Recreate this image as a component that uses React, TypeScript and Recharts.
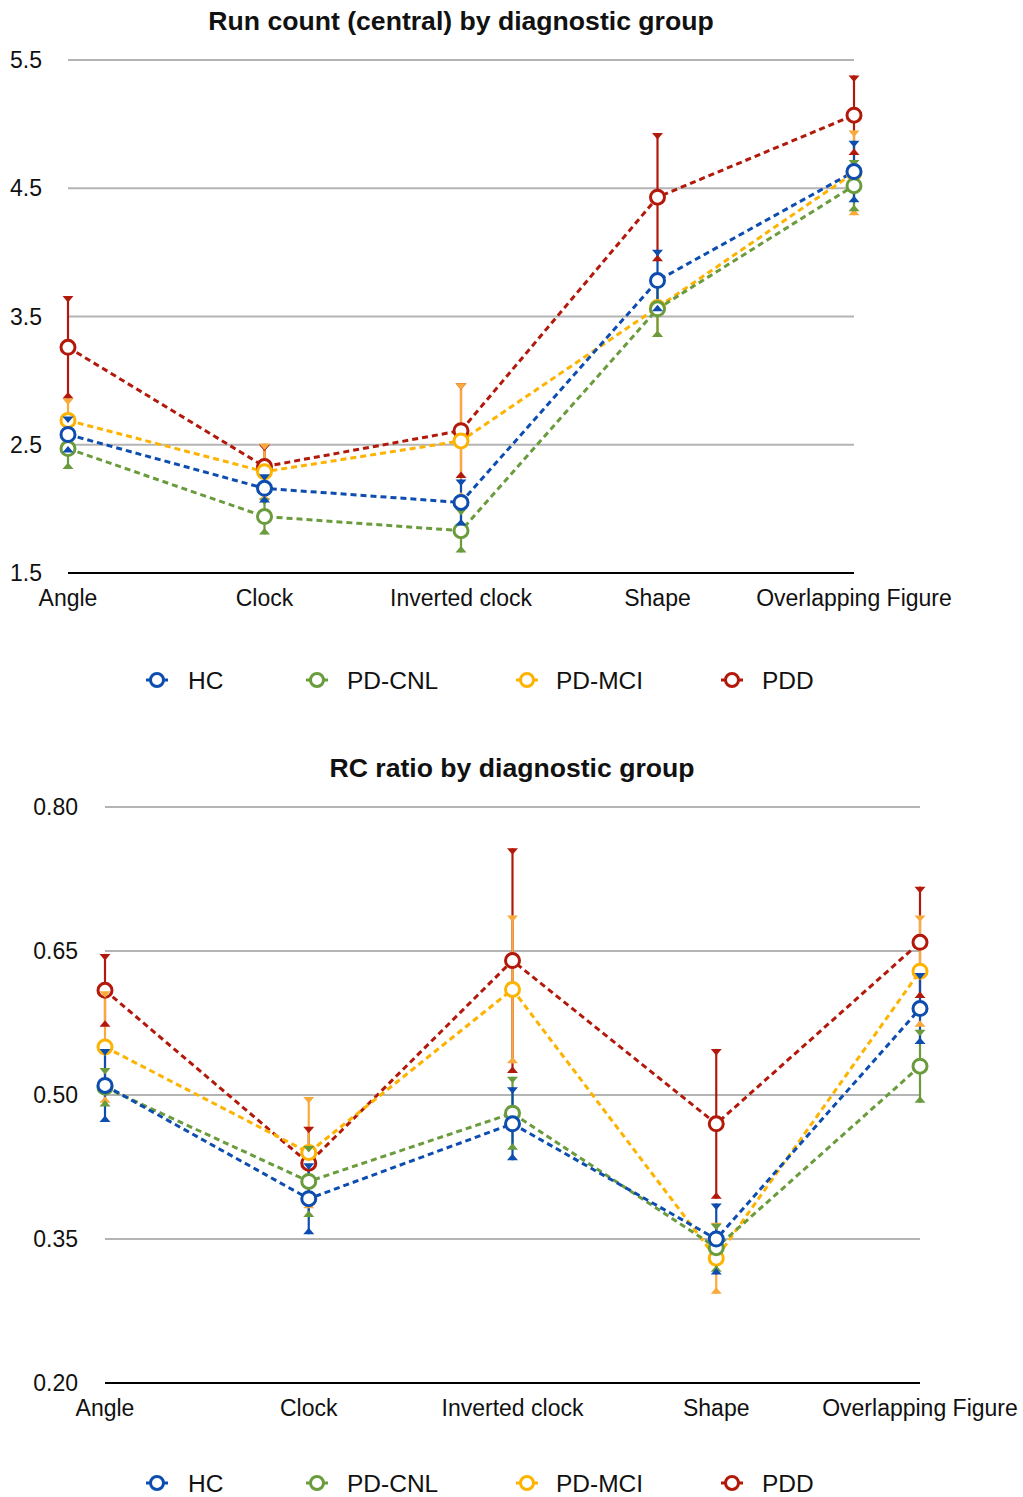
import React from "react";
import { LineChart, Line, XAxis, YAxis, CartesianGrid, ErrorBar } from "recharts";

const categories = ["Angle", "Clock", "Inverted clock", "Shape", "Overlapping Figure"];
const groups = ["HC", "PD-CNL", "PD-MCI", "PDD"];
const colors: Record<string, string> = { HC: "#0d4db0", "PD-CNL": "#6a9b3c", "PD-MCI": "#fdb300", PDD: "#b3190b" };
const barColors: Record<string, string> = { HC: "#0d4db0", "PD-CNL": "#6a9b3c", "PD-MCI": "#f9aa3c", PDD: "#b3190b" };

// Run count (central)
const runHC = [2.58, 2.16, 2.05, 3.78, 4.63];
const runHCErr = [0.14, 0.11, 0.18, 0.24, 0.24];
const runCNL = [2.47, 1.94, 1.83, 3.56, 4.52];
const runCNLErr = [0.16, 0.14, 0.17, 0.22, 0.2];
const runMCI = [2.69, 2.29, 2.53, 3.57, 4.62];
const runMCIErr = [0.17, 0.22, 0.45, 0.23, 0.33];
const runPDD = [3.26, 2.33, 2.61, 4.43, 5.07];
const runPDDErr = [0.4, 0.17, 0.37, 0.5, 0.31];
const runTicks = [1.5, 2.5, 3.5, 4.5, 5.5];

// RC ratio
const rcHC = [0.51, 0.392, 0.47, 0.35, 0.59];
const rcHCErr = [0.038, 0.037, 0.038, 0.037, 0.037];
const rcCNL = [0.508, 0.41, 0.481, 0.341, 0.53];
const rcCNLErr = [0.02, 0.037, 0.038, 0.025, 0.038];
const rcMCI = [0.55, 0.44, 0.61, 0.33, 0.629];
const rcMCIErr = [0.058, 0.058, 0.077, 0.037, 0.058];
const rcPDD = [0.609, 0.429, 0.64, 0.47, 0.659];
const rcPDDErr = [0.038, 0.038, 0.117, 0.078, 0.058];
const rcTicks = [0.2, 0.35, 0.5, 0.65, 0.8];

const FONT = "'Liberation Sans', Arial, Helvetica, sans-serif";

function buildRows(series: Record<string, number[]>, errs: Record<string, number[]>) {
  return categories.map((c, i) => {
    const row: any = { name: c };
    groups.forEach((g) => {
      row[g] = series[g][i];
      row[g + "_err"] = errs[g][i];
      row[g + "_hi"] = series[g][i] + errs[g][i];
      row[g + "_lo"] = series[g][i] - errs[g][i];
    });
    return row;
  });
}

const runRows = buildRows(
  { HC: runHC, "PD-CNL": runCNL, "PD-MCI": runMCI, PDD: runPDD },
  { HC: runHCErr, "PD-CNL": runCNLErr, "PD-MCI": runMCIErr, PDD: runPDDErr }
);
const rcRows = buildRows(
  { HC: rcHC, "PD-CNL": rcCNL, "PD-MCI": rcMCI, PDD: rcPDD },
  { HC: rcHCErr, "PD-CNL": rcCNLErr, "PD-MCI": rcMCIErr, PDD: rcPDDErr }
);

const drawOrder = ["PDD", "PD-MCI", "PD-CNL", "HC"];

function seriesElements(g: string) {
  const c = colors[g];
  const bc = barColors[g];
  return [
    <Line
      key={g + "-line"}
      type="linear"
      dataKey={g}
      stroke={c}
      strokeWidth={3}
      strokeDasharray="6 4"
      isAnimationActive={false}
      activeDot={false}
      dot={(p: any) => (
        <circle key={g + "d" + p.index} cx={p.cx} cy={p.cy} r={7} fill="#fff" stroke={c} strokeWidth={3} />
      )}
    />,
    <Line
      key={g + "-err"}
      dataKey={g}
      stroke="none"
      dot={false}
      activeDot={false}
      legendType="none"
      isAnimationActive={false}
    >
      <ErrorBar dataKey={g + "_err"} width={0} stroke={bc} strokeWidth={2.2} direction="y" isAnimationActive={false} />
    </Line>,
    <Line
      key={g + "-hi"}
      dataKey={g + "_hi"}
      stroke="none"
      legendType="none"
      activeDot={false}
      isAnimationActive={false}
      dot={(p: any) => (
        <path
          key={g + "h" + p.index}
          d={`M${p.cx - 5.5},${p.cy} L${p.cx + 5.5},${p.cy} L${p.cx},${p.cy + 6.5} Z`}
          fill={bc}
        />
      )}
    />,
    <Line
      key={g + "-lo"}
      dataKey={g + "_lo"}
      stroke="none"
      legendType="none"
      activeDot={false}
      isAnimationActive={false}
      dot={(p: any) => (
        <path
          key={g + "l" + p.index}
          d={`M${p.cx - 5.5},${p.cy} L${p.cx + 5.5},${p.cy} L${p.cx},${p.cy - 6.5} Z`}
          fill={bc}
        />
      )}
    />,
  ];
}

function Legend({ y }: { y: number }) {
  const items = [
    { g: "HC", mx: 157, tx: 188 },
    { g: "PD-CNL", mx: 317, tx: 347 },
    { g: "PD-MCI", mx: 527, tx: 556 },
    { g: "PDD", mx: 732, tx: 762 },
  ];
  return (
    <g>
      {items.map((it) => (
        <g key={it.g}>
          <line x1={it.mx - 11} x2={it.mx + 11} y1={y} y2={y} stroke={colors[it.g]} strokeWidth={3} />
          <circle cx={it.mx} cy={y} r={6.5} fill="#fff" stroke={colors[it.g]} strokeWidth={3} />
          <text x={it.tx} y={y + 8.5} fontSize={24.5} fontFamily={FONT} fill="#111">
            {it.g}
          </text>
        </g>
      ))}
    </g>
  );
}

export default function App() {
  const tickStyle = { fill: "#111", fontSize: 23, fontFamily: FONT };
  return (
    <div style={{ position: "absolute", left: 0, top: 0, width: 1023, height: 1497, background: "#fff" }}>
      <div style={{ position: "absolute", left: 0, top: 0 }}>
        <LineChart width={1023} height={620} data={runRows} margin={{ top: 60, right: 169, bottom: 0, left: 0 }}>
          <CartesianGrid horizontal={true} vertical={false} stroke="#b4b4b4" strokeWidth={2} />
          <XAxis
            dataKey="name"
            type="category"
            scale="point"
            padding={{ left: 0, right: 0 }}
            height={47}
            axisLine={{ stroke: "#000", strokeWidth: 2 }}
            tickLine={false}
            tickSize={0}
            tickMargin={17}
            tick={tickStyle}
            interval={0}
          />
          <YAxis
            domain={[1.5, 5.5]}
            ticks={runTicks}
            type="number"
            width={68}
            axisLine={false}
            tickLine={false}
            tickSize={0}
            tickMargin={26}
            tick={tickStyle}
            tickFormatter={(v: number) => v.toFixed(1)}
            interval={0}
          />
          {drawOrder.flatMap((g) => seriesElements(g))}
        </LineChart>
      </div>
      <div style={{ position: "absolute", left: 0, top: 740 }}>
        <LineChart width={1023} height={700} data={rcRows} margin={{ top: 67, right: 103, bottom: 0, left: 0 }}>
          <CartesianGrid horizontal={true} vertical={false} stroke="#b4b4b4" strokeWidth={2} />
          <XAxis
            dataKey="name"
            type="category"
            scale="point"
            padding={{ left: 0, right: 0 }}
            height={57}
            axisLine={{ stroke: "#000", strokeWidth: 2 }}
            tickLine={false}
            tickSize={0}
            tickMargin={17}
            tick={tickStyle}
            interval={0}
          />
          <YAxis
            domain={[0.2, 0.8]}
            ticks={rcTicks}
            type="number"
            width={105}
            axisLine={false}
            tickLine={false}
            tickSize={0}
            tickMargin={27}
            tick={tickStyle}
            tickFormatter={(v: number) => v.toFixed(2)}
            interval={0}
          />
          {drawOrder.flatMap((g) => seriesElements(g))}
        </LineChart>
      </div>
      <svg
        width={1023}
        height={1497}
        style={{ position: "absolute", left: 0, top: 0, pointerEvents: "none" }}
      >
        <text x={461} y={30} textAnchor="middle" fontSize={26.6} fontWeight="bold" fontFamily={FONT} fill="#111">
          Run count (central) by diagnostic group
        </text>
        <text x={512} y={777} textAnchor="middle" fontSize={26.6} fontWeight="bold" fontFamily={FONT} fill="#111">
          RC ratio by diagnostic group
        </text>
        <Legend y={680} />
        <Legend y={1483} />
      </svg>
    </div>
  );
}
